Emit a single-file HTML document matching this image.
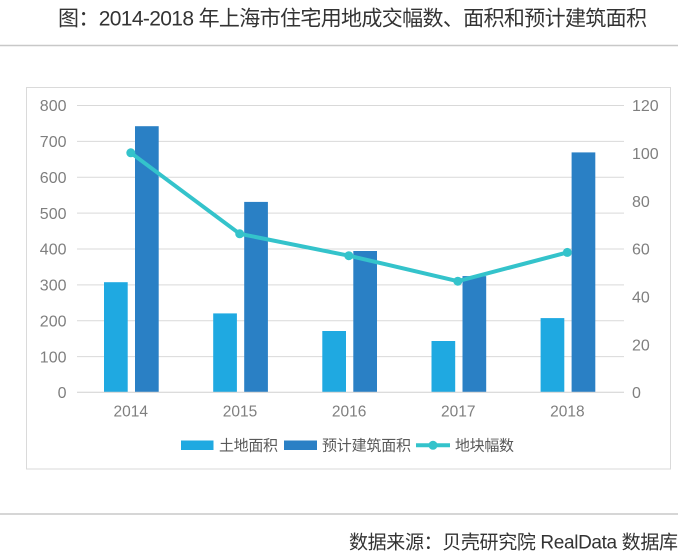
<!DOCTYPE html>
<html>
<head>
<meta charset="utf-8">
<style>
  html, body { margin: 0; padding: 0; background: #ffffff; }
  body { width: 692px; height: 558px; overflow: hidden; }
  svg { display: block; }
  text { font-family: "Liberation Sans", "Noto Sans CJK SC", sans-serif; }
</style>
</head>
<body>
<svg width="692" height="558" viewBox="0 0 692 558" xmlns="http://www.w3.org/2000/svg">
  <rect x="0" y="0" width="692" height="558" fill="#ffffff"/>

  <!-- Title -->
  <text x="58" y="25.5" font-size="21" fill="#333333" textLength="589" lengthAdjust="spacing">图：2014-2018 年上海市住宅用地成交幅数、面积和预计建筑面积</text>
  <line x1="0" y1="45.5" x2="678" y2="45.5" stroke="#c8c8c8" stroke-width="1.5"/>

  <!-- Chart frame -->
  <rect x="26.5" y="87.5" width="644" height="381.5" fill="#ffffff" stroke="#dadada" stroke-width="1"/>

  <!-- Gridlines -->
  <g stroke="#d9d9d9" stroke-width="1">
    <line x1="77" y1="105.5" x2="624" y2="105.5"/>
    <line x1="77" y1="141.4" x2="624" y2="141.4"/>
    <line x1="77" y1="177.3" x2="624" y2="177.3"/>
    <line x1="77" y1="213.1" x2="624" y2="213.1"/>
    <line x1="77" y1="249" x2="624" y2="249"/>
    <line x1="77" y1="284.9" x2="624" y2="284.9"/>
    <line x1="77" y1="320.8" x2="624" y2="320.8"/>
    <line x1="77" y1="356.6" x2="624" y2="356.6"/>
  </g>

  <!-- Bars: light (土地面积) -->
  <g fill="#1fa9e1">
    <rect x="104" y="282.2" width="23.7" height="109.8"/>
    <rect x="213.2" y="313.4" width="23.7" height="78.6"/>
    <rect x="322.3" y="331" width="23.7" height="61"/>
    <rect x="431.5" y="341" width="23.7" height="51"/>
    <rect x="540.6" y="318.1" width="23.7" height="73.9"/>
  </g>
  <!-- Bars: dark (预计建筑面积) -->
  <g fill="#2a80c5">
    <rect x="135" y="126.2" width="23.7" height="265.8"/>
    <rect x="244.2" y="201.9" width="23.7" height="190.1"/>
    <rect x="353.3" y="251" width="23.7" height="141"/>
    <rect x="462.5" y="276.1" width="23.7" height="115.9"/>
    <rect x="571.6" y="152.4" width="23.7" height="239.6"/>
  </g>

  <!-- Zero axis -->
  <line x1="77" y1="392.3" x2="624" y2="392.3" stroke="#d0d0d0" stroke-width="1"/>

  <!-- Line series (地块幅数) -->
  <polyline points="130.8,152.8 239.7,233.8 348.8,255.7 457.8,281.2 567.3,252.4" fill="none" stroke="#34c3cb" stroke-width="4" stroke-linejoin="round" stroke-linecap="round"/>
  <g fill="#34c3cb">
    <circle cx="130.8" cy="152.8" r="4.5"/>
    <circle cx="239.7" cy="233.8" r="4.5"/>
    <circle cx="348.8" cy="255.7" r="4.5"/>
    <circle cx="457.8" cy="281.2" r="4.5"/>
    <circle cx="567.3" cy="252.4" r="4.5"/>
  </g>

  <!-- Left axis labels -->
  <g font-size="16" fill="#7f7f7f" text-anchor="end">
    <text x="66.5" y="111.2">800</text>
    <text x="66.5" y="147.1">700</text>
    <text x="66.5" y="183">600</text>
    <text x="66.5" y="218.8">500</text>
    <text x="66.5" y="254.7">400</text>
    <text x="66.5" y="290.6">300</text>
    <text x="66.5" y="326.5">200</text>
    <text x="66.5" y="362.3">100</text>
    <text x="66.5" y="398">0</text>
  </g>

  <!-- Right axis labels -->
  <g font-size="16" fill="#7f7f7f" text-anchor="start">
    <text x="632" y="111.2">120</text>
    <text x="632" y="159">100</text>
    <text x="632" y="206.9">80</text>
    <text x="632" y="254.7">60</text>
    <text x="632" y="302.5">40</text>
    <text x="632" y="350.3">20</text>
    <text x="632" y="398">0</text>
  </g>

  <!-- X labels -->
  <g font-size="15.5" fill="#7f7f7f" text-anchor="middle">
    <text x="130.8" y="416.5">2014</text>
    <text x="240" y="416.5">2015</text>
    <text x="349.1" y="416.5">2016</text>
    <text x="458.3" y="416.5">2017</text>
    <text x="567.4" y="416.5">2018</text>
  </g>

  <!-- Legend -->
  <rect x="181" y="440.5" width="32.5" height="9.5" fill="#1fa9e1"/>
  <text x="219" y="450.7" font-size="15" fill="#595959" textLength="59" lengthAdjust="spacing">土地面积</text>
  <rect x="284" y="440.5" width="33" height="9.5" fill="#2a80c5"/>
  <text x="322" y="450.7" font-size="15" fill="#595959" textLength="89" lengthAdjust="spacing">预计建筑面积</text>
  <line x1="416" y1="445.3" x2="450" y2="445.3" stroke="#34c3cb" stroke-width="4"/>
  <circle cx="433" cy="445.3" r="4.5" fill="#34c3cb"/>
  <text x="455" y="450.7" font-size="15" fill="#595959" textLength="59" lengthAdjust="spacing">地块幅数</text>

  <!-- Footer -->
  <line x1="0" y1="514" x2="678" y2="514" stroke="#c8c8c8" stroke-width="1.5"/>
  <text x="349" y="548.5" font-size="19" fill="#333333" textLength="329" lengthAdjust="spacing">数据来源：贝壳研究院 RealData 数据库</text>
</svg>
</body>
</html>
